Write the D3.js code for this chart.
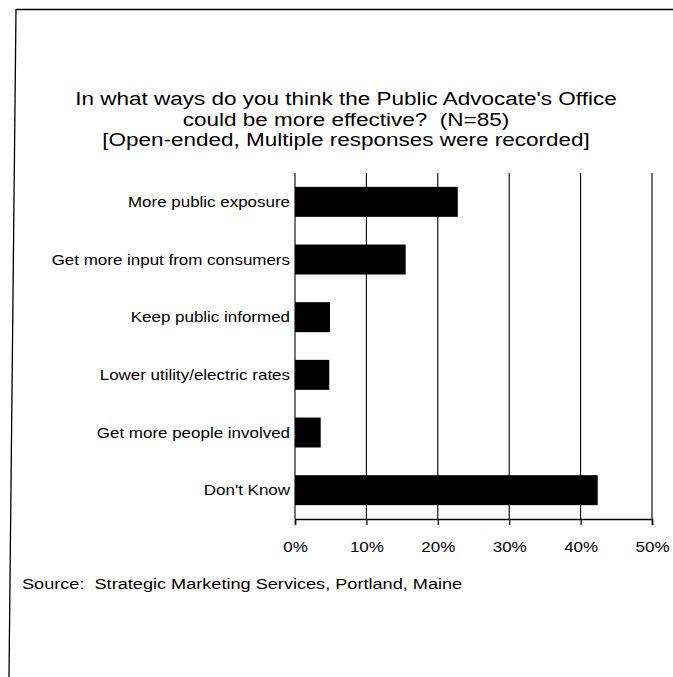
<!DOCTYPE html>
<html>
<head>
<meta charset="utf-8">
<script src="https://cdn.jsdelivr.net/npm/d3@7"></script>
<style>
  html, body { margin: 0; padding: 0; background: #fff; }
  svg { display: block; }
  text { font-family: "Liberation Sans", Arial, Helvetica, sans-serif; fill: #000; white-space: pre; }
</style>
</head>
<body>
<svg id="chart" width="673" height="677"></svg>
<script>
// Survey responses (percent of respondents, N=85)
const categories = [
  "More public exposure",
  "Get more input from consumers",
  "Keep public informed",
  "Lower utility/electric rates",
  "Get more people involved",
  "Don't Know"
];
const values = [22.8, 15.5, 4.9, 4.8, 3.6, 42.4];
const tickValues = [0, 10, 20, 30, 40, 50];
const tickLabels = ["0%", "10%", "20%", "30%", "40%", "50%"];
const titleLines = [
  "In what ways do you think the Public Advocate's Office",
  "could be more effective?  (N=85)",
  "[Open-ended, Multiple responses were recorded]"
];
const sourceText = "Source:  Strategic Marketing Services, Portland, Maine";

const svg = d3.select("#chart");

// page frame (top and left rules)
svg.append("line").attr("x1", 16).attr("y1", 9.5).attr("x2", 673).attr("y2", 9.5)
  .attr("stroke", "#000").attr("stroke-width", 1.6);
svg.append("line").attr("x1", 16).attr("y1", 9).attr("x2", 9).attr("y2", 677)
  .attr("stroke", "#000").attr("stroke-width", 1.3);

const plot = { left: 295, right: 652, top: 173, bottom: 519 };

const x = d3.scaleLinear().domain([0, 50]).range([plot.left, plot.right]);
const y = d3.scaleBand().domain(categories).range([plot.top, plot.bottom]).paddingInner(0.48).paddingOuter(0.24);

// title
const title = svg.append("g");
title.selectAll("text").data(titleLines).join("text")
  .attr("xml:space", "preserve")
  .attr("transform", (d, i) => `translate(346,${105 + i * 20.5}) scale(1.25,1)`)
  .attr("text-anchor", "middle")
  .style("font-size", "18px")
  .text(d => d);

// vertical gridlines
svg.append("g").selectAll("line").data(tickValues).join("line")
  .attr("x1", d => x(d)).attr("x2", d => x(d))
  .attr("y1", plot.top).attr("y2", plot.bottom)
  .attr("stroke", "#000").attr("stroke-width", 1.1);

// bars
svg.append("g").selectAll("rect").data(values).join("rect")
  .attr("x", x(0))
  .attr("y", (d, i) => y(categories[i]))
  .attr("width", d => x(d) - x(0))
  .attr("height", y.bandwidth())
  .attr("fill", "#000");

// x axis
const xAxis = d3.axisBottom(x).tickValues(tickValues).tickSize(6).tickPadding(17)
  .tickFormat((d, i) => tickLabels[i]);
const gx = svg.append("g").attr("transform", `translate(0,${plot.bottom})`).call(xAxis);
gx.select(".domain").attr("stroke", "#000").attr("stroke-width", 1.6);
gx.selectAll(".tick line").attr("stroke", "#000").attr("stroke-width", 1.2);
gx.selectAll(".tick text")
  .style("font-size", "14.5px")
  .attr("fill", "#000")
  .each(function () {
    const t = d3.select(this);
    t.attr("transform", `translate(0,${+t.attr("y")}) scale(1.17,1)`).attr("y", null).attr("dy", "0.71em");
  });

// category labels
svg.append("g").selectAll("text").data(categories).join("text")
  .attr("transform", d => `translate(290,${y(d) + y.bandwidth() / 2}) scale(1.17,1)`)
  .attr("text-anchor", "end")
  .attr("dy", "0.35em")
  .style("font-size", "14.5px")
  .text(d => d);

// source note
svg.append("text")
  .attr("xml:space", "preserve")
  .attr("transform", "translate(22,589) scale(1.21,1)")
  .style("font-size", "15px")
  .text(sourceText);
</script>
</body>
</html>
